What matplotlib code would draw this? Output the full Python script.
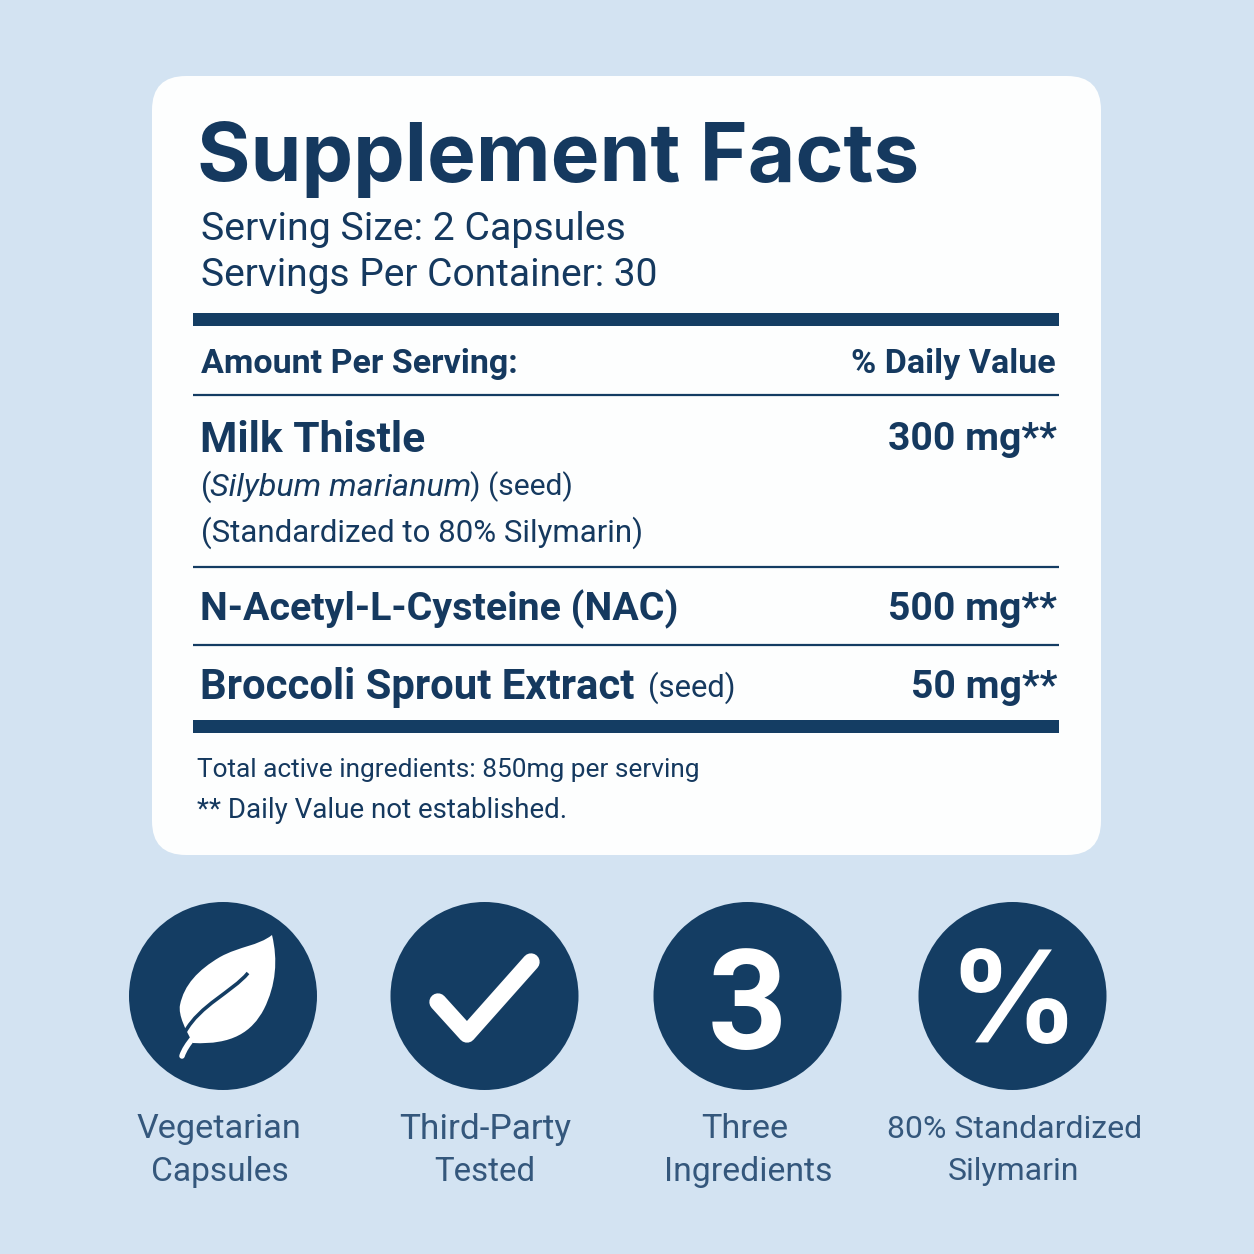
import matplotlib
matplotlib.use("Agg")
import matplotlib.pyplot as plt
from matplotlib.patches import FancyBboxPatch, Circle, PathPatch, Rectangle
from matplotlib.path import Path

plt.rcParams['font.family'] = ['Roboto', 'DejaVu Sans']

NAVY = '#143d63'
TEXT = '#15395f'
LABEL = '#34577c'
BG = '#d3e3f2'

ingredients = ['Milk Thistle', 'N-Acetyl-L-Cysteine (NAC)', 'Broccoli Sprout Extract']
amounts = ['300 mg**', '500 mg**', '50 mg**']
ingredient_y = [440, 609, 687]
name_sizes = [30.6, 28.4, 30.2]
badge_x = [223, 484.5, 747.5, 1012.5]
badge_top = ['Vegetarian', 'Third-Party', 'Three', '80% Standardized']
badge_bottom = ['Capsules', 'Tested', 'Ingredients', 'Silymarin']
top_x = [218.5, 485.5, 744.5, 1014.5]
bottom_x = [220, 485, 748.5, 1013.5]
top_sizes = [24.7, 25.4, 24.7, 23]
bottom_sizes = [24.2, 23.8, 24.3, 23]
thick_rules = [319, 726]
thin_rules = [395, 567, 645]

fig = plt.figure(figsize=(12.54, 12.54), dpi=100, facecolor=BG)
ax = fig.add_axes([0, 0, 1, 1])
ax.set_xlim(0, 1254)
ax.set_ylim(1254, 0)
ax.axis('off')

# white card
ax.add_patch(FancyBboxPatch((182, 106), 889, 719, boxstyle='round,pad=30,rounding_size=34',
                            fc='#fdfefe', ec='none'))

def txt(x, y, s, size, weight='normal', ha='left', color=TEXT, style='normal', family=None):
    return ax.text(x, y, s, fontsize=size, fontweight=weight, ha=ha, va='center',
                   color=color, fontstyle=style, family=family or ['Roboto', 'DejaVu Sans'])

txt(197, 159, 'Supplement Facts', 59, 'bold', family=['Inter', 'DejaVu Sans'])
txt(201, 229, 'Serving Size: 2 Capsules', 28.3)
txt(201, 275, 'Servings Per Container: 30', 28.1)

for y in thick_rules:
    ax.add_patch(Rectangle((193, y - 6.5), 866, 13, fc=NAVY, ec='none'))
for y in thin_rules:
    ax.plot([193, 1059], [y, y], color=NAVY, lw=1.6, solid_capstyle='butt')

txt(201, 364, 'Amount Per Serving:', 24.5, 'bold')
txt(1056, 364, '% Daily Value', 24.5, 'bold', ha='right')

for name, amt, y, size in zip(ingredients, amounts, ingredient_y, name_sizes):
    txt(200, y, name, size, 'bold')
    txt(1057, y, amt, 28.2, 'bold', ha='right')
txt(648, 688, '(seed)', 22.3)

txt(201, 487, '(', 22)
txt(210, 487, 'Silybum marianum', 23.3, style='italic')
txt(470, 487, ') (seed)', 21.6)
txt(201, 533, '(Standardized to 80% Silymarin)', 22.5)

txt(197, 770, 'Total active ingredients: 850mg per serving', 18.9)
txt(197, 810, '** Daily Value not established.', 20)

# badges
for x in badge_x:
    ax.add_patch(Circle((x, 996), 94, fc=NAVY, ec='none'))

# leaf
leaf = Path([(272, 935),
             (278, 960), (276, 985), (264, 1009),
             (252, 1032), (232, 1045), (193, 1043),
             (186, 1031), (178, 1015), (180, 1005),
             (184, 985), (198, 970), (220, 957),
             (240, 946), (258, 946), (272, 935),
             (272, 935)],
            [Path.MOVETO, Path.CURVE4, Path.CURVE4, Path.CURVE4,
             Path.CURVE4, Path.CURVE4, Path.CURVE4,
             Path.CURVE4, Path.CURVE4, Path.CURVE4,
             Path.CURVE4, Path.CURVE4, Path.CURVE4,
             Path.CURVE4, Path.CURVE4, Path.CURVE4, Path.CLOSEPOLY])
ax.add_patch(PathPatch(leaf, fc='white', ec='none'))
vein = Path([(248, 973), (232, 992), (200, 1005), (185, 1032)],
            [Path.MOVETO, Path.CURVE4, Path.CURVE4, Path.CURVE4])
ax.add_patch(PathPatch(vein, fc='none', ec=NAVY, lw=2.6))
stem = Path([(193, 1038), (188, 1044), (184, 1050), (182, 1056)],
            [Path.MOVETO, Path.CURVE4, Path.CURVE4, Path.CURVE4])
ax.add_patch(PathPatch(stem, fc='none', ec='white', lw=4, capstyle='round'))

# check
ax.plot([438, 467, 531], [1002, 1034, 962], color='white', lw=12.5,
        solid_capstyle='round', solid_joinstyle='round')

ax.text(747.5, 1010, '3', fontsize=100, fontweight='bold', color='white', ha='center', va='center')
ax.text(1013, 1009, '%', fontsize=92, fontweight='bold', color='white', ha='center', va='center',
        family=['Inter', 'DejaVu Sans'])

for x, s, size in zip(top_x, badge_top, top_sizes):
    txt(x, 1129, s, size, ha='center', color=LABEL)
for x, s, size in zip(bottom_x, badge_bottom, bottom_sizes):
    txt(x, 1172, s, size, ha='center', color=LABEL)

fig.savefig('out.png', dpi=100, facecolor=BG)
